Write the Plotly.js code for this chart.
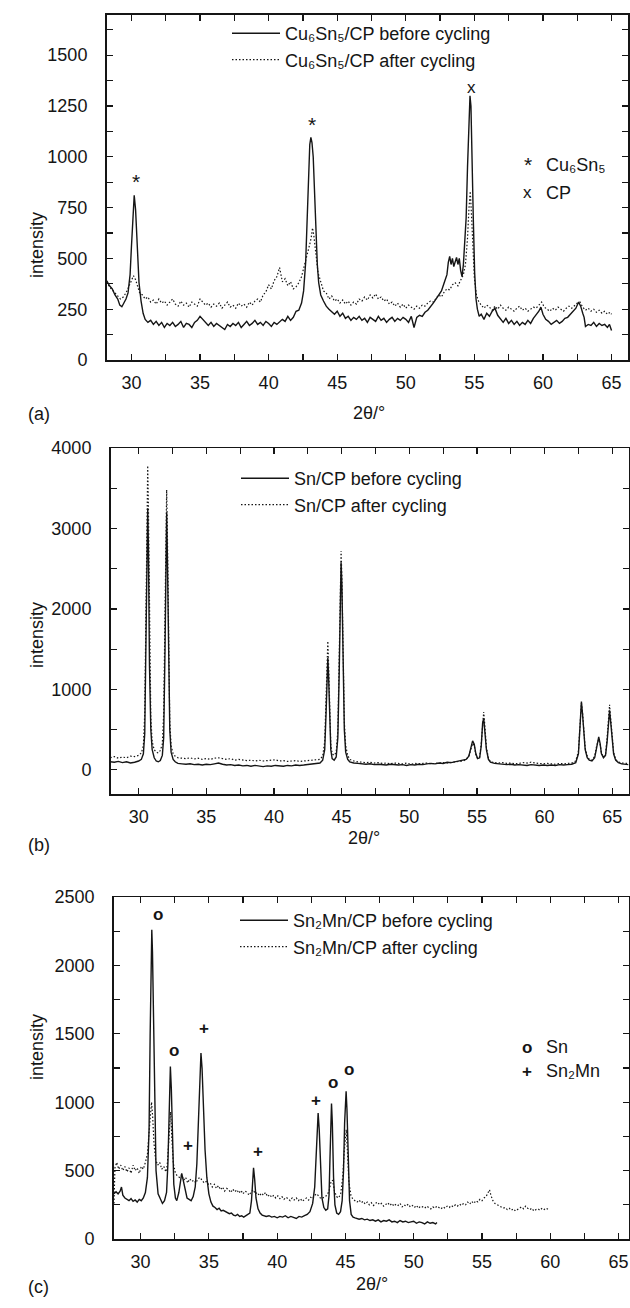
<!DOCTYPE html>
<html>
<head>
<meta charset="utf-8">
<script src="https://cdn.plot.ly/plotly-3.0.1.min.js"></script>
<style>html,body{margin:0;padding:0;background:#fff;}#chart{width:630px;height:1308px;}</style>
</head>
<body>
<div id="chart"></div>
<script>
// ---------- DATA (2theta, intensity) ----------
const A_BEFORE = [[28.2,390],[28.4,365],[28.6,350],[28.8,320],[29.0,300],[29.15,270],[29.3,262],[29.45,280],[29.6,300],[29.75,330],[29.9,420],[30.0,560],[30.1,720],[30.2,810],[30.3,740],[30.42,520],[30.55,380],[30.7,290],[30.85,230],[31.0,200],[31.2,185],[31.4,195],[31.6,175],[31.8,190],[32.0,170],[32.2,185],[32.4,160],[32.6,180],[32.8,170],[33.0,185],[33.2,165],[33.4,175],[33.6,190],[33.8,160],[34.0,180],[34.2,175],[34.4,160],[34.6,185],[34.8,195],[35.0,215],[35.2,200],[35.4,180],[35.6,170],[35.8,185],[36.0,165],[36.2,180],[36.4,170],[36.6,160],[36.8,150],[37.0,175],[37.2,165],[37.4,180],[37.6,170],[37.8,185],[38.0,160],[38.2,175],[38.4,190],[38.6,170],[38.8,180],[39.0,195],[39.2,175],[39.4,185],[39.6,170],[39.8,190],[40.0,180],[40.2,165],[40.4,185],[40.6,175],[40.8,190],[41.0,200],[41.2,190],[41.4,215],[41.6,195],[41.8,210],[42.0,240],[42.2,245],[42.4,280],[42.55,340],[42.7,480],[42.8,650],[42.9,880],[43.0,1060],[43.08,1095],[43.16,1070],[43.25,1000],[43.35,820],[43.45,620],[43.55,470],[43.65,380],[43.8,320],[44.0,290],[44.2,265],[44.4,250],[44.6,235],[44.8,225],[45.0,240],[45.2,215],[45.4,230],[45.6,205],[45.8,215],[46.0,195],[46.2,210],[46.4,200],[46.6,215],[46.8,195],[47.0,205],[47.2,185],[47.4,210],[47.6,200],[47.8,190],[48.0,215],[48.2,195],[48.4,205],[48.6,185],[48.8,200],[49.0,210],[49.2,190],[49.4,205],[49.6,195],[49.8,210],[50.0,200],[50.2,185],[50.4,215],[50.6,160],[50.8,210],[51.0,220],[51.2,215],[51.4,235],[51.6,245],[51.8,260],[52.0,280],[52.2,300],[52.4,320],[52.6,340],[52.8,380],[53.0,420],[53.1,480],[53.2,510],[53.3,470],[53.4,500],[53.5,460],[53.6,490],[53.7,505],[53.8,470],[53.9,500],[54.0,440],[54.1,410],[54.2,470],[54.3,560],[54.4,700],[54.5,950],[54.6,1200],[54.68,1300],[54.75,1250],[54.83,1050],[54.92,700],[55.02,430],[55.12,300],[55.22,250],[55.35,215],[55.5,225],[55.7,200],[55.9,230],[56.1,215],[56.3,240],[56.5,255],[56.7,220],[56.9,200],[57.1,185],[57.3,205],[57.5,180],[57.7,195],[57.9,175],[58.1,190],[58.3,170],[58.5,185],[58.7,175],[58.9,195],[59.1,180],[59.3,205],[59.5,220],[59.7,240],[59.85,260],[60.0,225],[60.2,200],[60.4,190],[60.6,175],[60.8,185],[61.0,195],[61.2,180],[61.4,190],[61.6,205],[61.8,210],[62.0,225],[62.2,240],[62.4,255],[62.6,285],[62.75,265],[62.9,230],[63.0,210],[63.1,165],[63.3,175],[63.5,170],[63.7,185],[63.9,165],[64.1,180],[64.3,170],[64.5,175],[64.7,160],[64.85,175],[65.0,145]];

const A_AFTER = [[28.2,385],[28.4,360],[28.6,345],[28.8,330],[29.0,315],[29.2,300],[29.4,310],[29.6,330],[29.8,360],[30.0,390],[30.15,415],[30.3,395],[30.45,360],[30.6,330],[30.8,320],[31.0,300],[31.2,310],[31.4,285],[31.6,295],[31.8,275],[32.0,300],[32.2,280],[32.4,290],[32.6,270],[32.8,285],[33.0,300],[33.2,275],[33.4,265],[33.6,290],[33.8,270],[34.0,280],[34.2,260],[34.4,285],[34.6,275],[34.8,265],[35.0,300],[35.2,285],[35.4,270],[35.6,280],[35.8,260],[36.0,275],[36.2,265],[36.4,280],[36.6,255],[36.8,270],[37.0,285],[37.2,260],[37.4,270],[37.6,255],[37.8,280],[38.0,265],[38.2,275],[38.4,260],[38.6,285],[38.8,270],[39.0,290],[39.2,300],[39.4,285],[39.6,320],[39.8,335],[40.0,370],[40.2,350],[40.4,390],[40.6,410],[40.8,455],[40.9,420],[41.0,385],[41.2,400],[41.4,365],[41.6,385],[41.8,350],[42.0,360],[42.2,380],[42.4,410],[42.6,460],[42.8,520],[43.0,570],[43.1,600],[43.2,650],[43.3,610],[43.4,560],[43.5,490],[43.6,430],[43.8,380],[44.0,340],[44.2,330],[44.4,300],[44.6,315],[44.8,290],[45.0,300],[45.2,280],[45.4,295],[45.6,275],[45.8,290],[46.0,270],[46.2,285],[46.4,275],[46.6,300],[46.8,290],[47.0,310],[47.2,295],[47.4,320],[47.6,305],[47.8,325],[48.0,300],[48.2,310],[48.4,290],[48.6,300],[48.8,275],[49.0,285],[49.2,265],[49.4,280],[49.6,260],[49.8,275],[50.0,255],[50.2,270],[50.4,260],[50.6,250],[50.8,265],[51.0,255],[51.2,270],[51.4,265],[51.6,280],[51.8,290],[52.0,285],[52.2,300],[52.4,320],[52.6,310],[52.8,335],[53.0,350],[53.2,345],[53.4,370],[53.6,380],[53.8,365],[54.0,390],[54.2,420],[54.35,470],[54.5,600],[54.6,740],[54.7,830],[54.8,700],[54.9,520],[55.0,400],[55.15,320],[55.3,290],[55.5,270],[55.7,255],[55.9,270],[56.1,260],[56.3,245],[56.5,265],[56.7,250],[56.9,270],[57.1,255],[57.3,245],[57.5,260],[57.7,250],[57.9,240],[58.1,255],[58.3,265],[58.5,245],[58.7,255],[58.9,240],[59.1,250],[59.3,260],[59.5,255],[59.7,270],[59.9,285],[60.1,260],[60.3,250],[60.5,240],[60.7,255],[60.9,245],[61.1,260],[61.3,250],[61.5,240],[61.7,255],[61.9,265],[62.1,255],[62.3,270],[62.5,280],[62.7,285],[62.9,260],[63.1,245],[63.3,255],[63.5,240],[63.7,250],[63.9,235],[64.1,245],[64.3,230],[64.5,240],[64.7,225],[64.9,235],[65.0,225]];

const B_BEFORE = [[27.9,100],[28.2,95],[28.5,105],[28.8,90],[29.1,100],[29.4,85],[29.7,95],[30.0,110],[30.2,130],[30.35,200],[30.45,450],[30.55,1700],[30.62,3000],[30.67,3250],[30.72,2800],[30.8,1300],[30.9,500],[31.0,250],[31.15,150],[31.3,110],[31.45,100],[31.6,115],[31.75,180],[31.85,400],[31.95,1500],[32.02,2900],[32.07,3200],[32.12,2700],[32.2,1300],[32.3,500],[32.4,220],[32.55,130],[32.7,100],[32.9,80],[33.2,75],[33.5,70],[33.8,75],[34.1,65],[34.4,70],[34.7,60],[35.0,70],[35.3,65],[35.6,75],[35.9,85],[36.2,70],[36.5,60],[36.8,65],[37.1,55],[37.4,60],[37.7,50],[38.0,55],[38.3,45],[38.6,55],[38.9,50],[39.2,40],[39.5,50],[39.8,45],[40.1,55],[40.4,50],[40.7,45],[41.0,55],[41.3,50],[41.6,60],[41.9,55],[42.2,60],[42.5,65],[42.8,70],[43.1,75],[43.4,85],[43.6,120],[43.75,250],[43.85,700],[43.93,1250],[43.98,1390],[44.03,1200],[44.1,650],[44.2,250],[44.3,140],[44.45,120],[44.6,160],[44.72,400],[44.82,1200],[44.9,2300],[44.96,2580],[45.02,2300],[45.1,1300],[45.2,500],[45.3,220],[45.45,130],[45.6,100],[45.9,85],[46.2,80],[46.5,75],[46.8,70],[47.1,75],[47.4,65],[47.7,70],[48.0,65],[48.3,60],[48.6,70],[48.9,65],[49.2,60],[49.5,65],[49.8,55],[50.1,65],[50.4,60],[50.7,70],[51.0,65],[51.3,75],[51.6,80],[51.9,75],[52.2,85],[52.5,80],[52.8,95],[53.1,90],[53.4,100],[53.7,110],[54.0,115],[54.2,130],[54.4,170],[54.55,260],[54.68,360],[54.8,320],[54.92,200],[55.05,140],[55.2,150],[55.32,300],[55.42,580],[55.5,640],[55.58,500],[55.7,250],[55.85,130],[56.0,95],[56.3,80],[56.6,75],[56.9,70],[57.2,65],[57.5,70],[57.8,60],[58.1,65],[58.4,60],[58.7,55],[59.0,65],[59.3,60],[59.6,55],[59.9,60],[60.2,55],[60.5,60],[60.8,55],[61.1,65],[61.4,60],[61.7,65],[62.0,70],[62.3,90],[62.5,200],[62.62,550],[62.72,850],[62.8,700],[62.9,420],[63.0,250],[63.15,150],[63.3,120],[63.5,110],[63.7,150],[63.85,280],[64.0,410],[64.1,330],[64.2,200],[64.35,150],[64.5,180],[64.62,350],[64.72,620],[64.8,740],[64.88,600],[64.98,380],[65.1,200],[65.25,120],[65.45,90],[65.7,75],[66.0,70],[66.2,65]];

const B_AFTER = [[27.9,150],[28.2,165],[28.5,145],[28.8,160],[29.1,150],[29.4,170],[29.7,165],[30.0,180],[30.2,210],[30.35,300],[30.45,700],[30.55,2200],[30.62,3500],[30.67,3780],[30.72,3300],[30.8,1600],[30.9,650],[31.0,350],[31.15,250],[31.3,220],[31.45,210],[31.6,240],[31.75,320],[31.85,700],[31.95,1900],[32.02,3200],[32.07,3480],[32.12,3000],[32.2,1500],[32.3,600],[32.4,300],[32.55,200],[32.7,170],[32.9,150],[33.2,145],[33.5,140],[33.8,150],[34.1,135],[34.4,145],[34.7,130],[35.0,140],[35.3,130],[35.6,145],[35.9,150],[36.2,140],[36.5,130],[36.8,140],[37.1,120],[37.4,130],[37.7,125],[38.0,115],[38.3,120],[38.6,110],[38.9,120],[39.2,110],[39.5,115],[39.8,120],[40.1,125],[40.4,110],[40.7,115],[41.0,105],[41.3,110],[41.6,115],[41.9,105],[42.2,110],[42.5,115],[42.8,120],[43.1,120],[43.4,130],[43.6,170],[43.75,350],[43.85,900],[43.93,1450],[43.98,1600],[44.03,1350],[44.1,750],[44.2,320],[44.3,200],[44.45,180],[44.6,220],[44.72,500],[44.82,1400],[44.9,2450],[44.96,2720],[45.02,2400],[45.1,1400],[45.2,600],[45.3,300],[45.45,180],[45.6,130],[45.9,110],[46.2,100],[46.5,95],[46.8,90],[47.1,95],[47.4,85],[47.7,90],[48.0,80],[48.3,85],[48.6,75],[48.9,85],[49.2,80],[49.5,75],[49.8,85],[50.1,70],[50.4,80],[50.7,75],[51.0,80],[51.3,85],[51.6,75],[51.9,80],[52.2,85],[52.5,90],[52.8,85],[53.1,95],[53.4,100],[53.7,105],[54.0,110],[54.2,130],[54.4,170],[54.55,250],[54.68,330],[54.8,300],[54.92,190],[55.05,140],[55.2,160],[55.32,330],[55.42,640],[55.5,720],[55.58,560],[55.7,280],[55.85,140],[56.0,100],[56.3,90],[56.6,85],[56.9,90],[57.2,80],[57.5,85],[57.8,75],[58.1,80],[58.4,90],[58.7,85],[59.0,95],[59.3,85],[59.6,80],[59.9,75],[60.2,80],[60.5,75],[60.8,70],[61.1,80],[61.4,75],[61.7,80],[62.0,85],[62.3,110],[62.5,230],[62.62,560],[62.72,830],[62.8,720],[62.9,450],[63.0,270],[63.15,170],[63.3,130],[63.5,120],[63.7,170],[63.85,300],[64.0,380],[64.1,320],[64.2,210],[64.35,160],[64.5,190],[64.62,400],[64.72,700],[64.8,810],[64.88,650],[64.98,400],[65.1,220],[65.25,130],[65.45,100],[65.7,85],[66.0,80],[66.2,80]];

const C_BEFORE = [[28.05,330],[28.2,345],[28.35,330],[28.5,350],[28.6,380],[28.7,320],[28.85,300],[29.0,290],[29.15,280],[29.3,295],[29.45,275],[29.6,285],[29.75,270],[29.9,290],[30.05,280],[30.2,300],[30.35,340],[30.5,450],[30.62,800],[30.7,1500],[30.77,2100],[30.82,2260],[30.87,2100],[30.95,1500],[31.03,900],[31.13,500],[31.28,330],[31.45,290],[31.6,260],[31.75,280],[31.9,340],[32.0,550],[32.1,950],[32.18,1260],[32.25,1100],[32.33,700],[32.43,400],[32.55,300],[32.65,280],[32.8,340],[32.92,430],[33.01,480],[33.1,440],[33.25,360],[33.4,300],[33.55,290],[33.7,280],[33.85,310],[34.0,380],[34.12,550],[34.25,900],[34.35,1250],[34.42,1360],[34.5,1250],[34.6,950],[34.72,650],[34.85,450],[35.0,330],[35.15,270],[35.3,240],[35.45,230],[35.6,215],[35.75,225],[35.9,205],[36.05,210],[36.2,200],[36.35,195],[36.5,185],[36.65,190],[36.8,175],[36.95,170],[37.1,180],[37.25,165],[37.4,170],[37.55,160],[37.7,170],[37.85,175],[38.0,190],[38.12,280],[38.2,430],[38.27,520],[38.35,440],[38.45,300],[38.6,220],[38.75,190],[38.9,175],[39.05,170],[39.2,165],[39.4,170],[39.6,160],[39.8,165],[40.0,155],[40.2,165],[40.4,160],[40.6,170],[40.8,155],[41.0,165],[41.2,160],[41.4,150],[41.6,165],[41.8,160],[42.0,170],[42.2,180],[42.4,200],[42.6,260],[42.75,380],[42.85,600],[42.93,820],[43.0,920],[43.08,800],[43.18,500],[43.28,300],[43.42,230],[43.56,210],[43.7,220],[43.8,320],[43.87,600],[43.93,900],[43.98,990],[44.04,850],[44.13,450],[44.23,250],[44.36,190],[44.5,180],[44.64,200],[44.76,280],[44.86,500],[44.94,850],[45.0,1030],[45.05,1080],[45.11,950],[45.2,550],[45.3,280],[45.42,180],[45.56,160],[45.7,155],[45.85,150],[46.0,145],[46.2,150],[46.4,140],[46.6,145],[46.8,135],[47.0,140],[47.2,130],[47.4,140],[47.6,125],[47.8,135],[48.0,130],[48.2,140],[48.4,125],[48.6,130],[48.8,120],[49.0,135],[49.2,125],[49.4,130],[49.6,120],[49.8,125],[50.0,130],[50.2,115],[50.4,125],[50.6,120],[50.8,110],[51.0,125],[51.2,115],[51.4,120],[51.6,110],[51.7,120]];

const C_AFTER = [[28.05,260],[28.08,420],[28.12,520],[28.25,560],[28.4,510],[28.55,540],[28.7,500],[28.85,530],[29.0,490],[29.15,520],[29.3,480],[29.45,540],[29.6,500],[29.75,520],[29.9,480],[30.05,530],[30.2,510],[30.35,560],[30.5,620],[30.62,780],[30.72,950],[30.8,1000],[30.88,900],[30.98,700],[31.1,580],[31.25,540],[31.4,560],[31.55,510],[31.7,530],[31.85,490],[31.95,540],[32.05,700],[32.13,900],[32.2,930],[32.28,750],[32.4,550],[32.55,480],[32.7,460],[32.85,450],[33.0,470],[33.15,430],[33.3,450],[33.45,410],[33.6,440],[33.75,420],[33.9,430],[34.05,410],[34.2,440],[34.35,450],[34.5,430],[34.65,410],[34.8,420],[34.95,400],[35.1,410],[35.25,380],[35.4,400],[35.55,370],[35.7,390],[35.85,360],[36.0,380],[36.15,350],[36.3,370],[36.45,360],[36.6,340],[36.75,365],[36.9,345],[37.05,360],[37.2,335],[37.35,355],[37.5,330],[37.65,350],[37.8,340],[37.95,320],[38.1,345],[38.25,360],[38.4,330],[38.55,340],[38.7,315],[38.85,335],[39.0,320],[39.15,340],[39.3,310],[39.45,325],[39.6,305],[39.75,320],[39.9,300],[40.05,315],[40.2,295],[40.35,310],[40.5,290],[40.65,305],[40.8,295],[40.95,280],[41.1,300],[41.25,285],[41.4,300],[41.55,280],[41.7,295],[41.85,275],[42.0,290],[42.15,300],[42.3,285],[42.45,305],[42.6,295],[42.75,320],[42.9,330],[43.05,310],[43.2,295],[43.35,300],[43.5,310],[43.65,320],[43.8,350],[43.95,420],[44.05,430],[44.2,350],[44.35,310],[44.5,300],[44.65,330],[44.8,450],[44.92,650],[45.0,780],[45.06,800],[45.14,650],[45.25,420],[45.4,320],[45.55,290],[45.7,280],[45.85,270],[46.0,285],[46.15,265],[46.3,275],[46.45,255],[46.6,270],[46.75,250],[46.9,265],[47.05,245],[47.2,260],[47.35,270],[47.5,250],[47.65,260],[47.8,240],[47.95,255],[48.1,265],[48.25,245],[48.4,260],[48.55,240],[48.7,255],[48.85,245],[49.0,260],[49.15,235],[49.3,250],[49.45,240],[49.6,255],[49.75,235],[49.9,245],[50.05,230],[50.2,245],[50.35,225],[50.5,240],[50.65,235],[50.8,225],[50.95,240],[51.1,230],[51.25,220],[51.4,235],[51.55,225],[51.7,240],[51.85,230],[52.0,220],[52.15,235],[52.3,225],[52.45,240],[52.6,230],[52.75,245],[52.9,235],[53.05,250],[53.2,240],[53.35,255],[53.5,245],[53.65,260],[53.8,250],[53.95,270],[54.1,255],[54.25,275],[54.4,260],[54.55,280],[54.7,270],[54.85,290],[55.0,280],[55.15,300],[55.3,310],[55.45,340],[55.55,360],[55.65,320],[55.8,280],[55.95,260],[56.1,250],[56.25,240],[56.4,235],[56.55,225],[56.7,230],[56.85,215],[57.0,225],[57.15,210],[57.3,220],[57.45,205],[57.6,215],[57.75,225],[57.9,235],[58.05,220],[58.2,240],[58.35,225],[58.5,215],[58.65,225],[58.8,205],[58.95,215],[59.1,220],[59.25,210],[59.4,225],[59.55,215],[59.7,225],[59.85,215],[59.95,220]];

// series names
const A_NAMES = ['Cu₆Sn₅/CP before cycling', 'Cu₆Sn₅/CP after cycling'];
const B_NAMES = ['Sn/CP before cycling', 'Sn/CP after cycling'];
const C_NAMES = ['Sn₂Mn/CP before cycling', 'Sn₂Mn/CP after cycling'];

// phase marks [label, 2theta, intensity]
const A_MARKS = [['*',30.32,870],['*',43.19,1150],['x',54.77,1340]];
const C_MARKS = [['o',31.24,2375],['o',32.44,1378],['+',33.47,680],['+',34.65,1536],['+',38.62,638],['+',42.88,1014],['o',44.12,1143],['o',45.24,1238]];
// phase keys [symbol, name]
const A_KEYS = [['*','Cu₆Sn₅'],['x','CP']];
const C_KEYS = [['o','Sn'],['+','Sn₂Mn']];

// ---------- LAYOUT ----------
const W = 630, H = 1308;
const FONT = 'Liberation Sans, Arial, Helvetica, sans-serif';
const INK = '#151515';
const px = v => v / W;
const py = v => 1 - v / H;

function trace(pairs, name, solid, xa, ya, leg) {
  return {
    x: pairs.map(p => p[0]), y: pairs.map(p => p[1]), name: name,
    type: 'scatter', mode: 'lines', xaxis: xa, yaxis: ya, legend: leg,
    line: solid ? {color: INK, width: 1.4} : {color: INK, width: 1.2, dash: '1.5px,2px'},
    hoverinfo: 'skip'
  };
}

const data = [
  trace(A_BEFORE, A_NAMES[0], true, 'x', 'y', 'legend'),
  trace(A_AFTER, A_NAMES[1], false, 'x', 'y', 'legend'),
  trace(B_BEFORE, B_NAMES[0], true, 'x2', 'y2', 'legend2'),
  trace(B_AFTER, B_NAMES[1], false, 'x2', 'y2', 'legend2'),
  trace(C_BEFORE, C_NAMES[0], true, 'x3', 'y3', 'legend3'),
  trace(C_AFTER, C_NAMES[1], false, 'x3', 'y3', 'legend3')
];

function xAxis(d0, d1, anchor, range) {
  return {domain: [px(d0), px(d1)], anchor: anchor, range: range, showline: true, linecolor: INK, linewidth: 1.5,
    mirror: 'ticks', ticks: 'inside', ticklen: 6, tickwidth: 1.2, tickcolor: INK, tick0: 0, dtick: 5,
    minor: {dtick: 2.5, ticks: 'inside', ticklen: 6, tickwidth: 1.2, tickcolor: INK},
    showgrid: false, zeroline: false, tickfont: {size: 18, color: INK}, ticklabelstandoff: 6, fixedrange: true};
}
function yAxis(top, bottom, anchor, range, dt) {
  return {domain: [py(bottom), py(top)], anchor: anchor, range: range, showline: true, linecolor: INK, linewidth: 1.5,
    mirror: 'ticks', ticks: 'inside', ticklen: 6, tickwidth: 1.2, tickcolor: INK, tick0: 0, dtick: dt,
    minor: {dtick: dt / 2, ticks: 'inside', ticklen: 6, tickwidth: 1.2, tickcolor: INK},
    showgrid: false, zeroline: false, tickfont: {size: 18, color: INK}, ticklabelstandoff: 14, fixedrange: true};
}

function legendAt(xpx, ypx) {
  return {x: px(xpx), y: py(ypx), xanchor: 'left', yanchor: 'top', bgcolor: 'rgba(0,0,0,0)', borderwidth: 0,
    font: {size: 18, color: INK, family: FONT}, itemwidth: 48, traceorder: 'normal'};
}

const ann = [];
function label(text, xpx, ypx, extra) {
  ann.push(Object.assign({xref: 'paper', yref: 'paper', x: px(xpx), y: py(ypx), text: text, showarrow: false,
    font: {size: 18, color: INK, family: FONT}}, extra || {}));
}
function symFont(s) {
  if (s === '*') return {size: 21, color: INK, family: FONT};
  if (s === 'x') return {size: 17, color: INK, family: FONT};
  return {size: 17, color: INK, family: FONT, weight: 'bold'};
}
const STAR_SHIFT = 2;
// axis titles and panel letters
[[210, 369, 401, 402, '(a)'], [635, 364, 838, 845, '(b)'], [1082, 372, 1296, 1299, '(c)']].forEach(r => {
  label('intensity', 25, r[0], {textangle: -90});
  label('2θ/°', r[1], r[2]);
  label(r[4], 26, r[3]);
});
// phase marks in data coordinates
A_MARKS.forEach(m => ann.push({xref: 'x', yref: 'y', x: m[1], y: m[2], text: m[0], showarrow: false,
  font: symFont(m[0]), yshift: m[0] === '*' ? STAR_SHIFT : 0}));
C_MARKS.forEach(m => ann.push({xref: 'x3', yref: 'y3', x: m[1], y: m[2], text: m[0], showarrow: false,
  font: symFont(m[0])}));
// phase keys
A_KEYS.forEach((k, i) => {
  const yy = 153 + i * 28;
  label(k[0], 534, yy, {font: symFont(k[0]), yshift: k[0] === '*' ? STAR_SHIFT : 0});
  label(k[1], 544, yy, {xanchor: 'left'});
});
C_KEYS.forEach((k, i) => {
  const yy = 1059 + i * 24;
  label(k[0], 534, yy, {font: symFont(k[0])});
  label(k[1], 544, yy, {xanchor: 'left'});
});

const layout = {
  width: W, height: H, margin: {l: 0, r: 0, t: 0, b: 0}, paper_bgcolor: '#fff', plot_bgcolor: '#fff',
  font: {family: FONT, size: 18, color: INK}, showlegend: true,
  xaxis: xAxis(106.5, 628, 'y', [28.18, 66.2]),
  yaxis: yAxis(14.5, 360, 'x', [0, 1700], 250),
  xaxis2: xAxis(110.5, 628.5, 'y2', [27.92, 66.2]),
  yaxis2: yAxis(448, 794, 'x2', [-300, 4000], 1000),
  xaxis3: xAxis(113.7, 628.8, 'y3', [28.03, 65.75]),
  yaxis3: yAxis(897, 1239, 'x3', [0, 2500], 500),
  legend: legendAt(227, 15),
  legend2: legendAt(236, 460),
  legend3: legendAt(235, 902),
  annotations: ann
};

Plotly.newPlot('chart', data, layout, {staticPlot: true, displayModeBar: false});
</script>
</body>
</html>
